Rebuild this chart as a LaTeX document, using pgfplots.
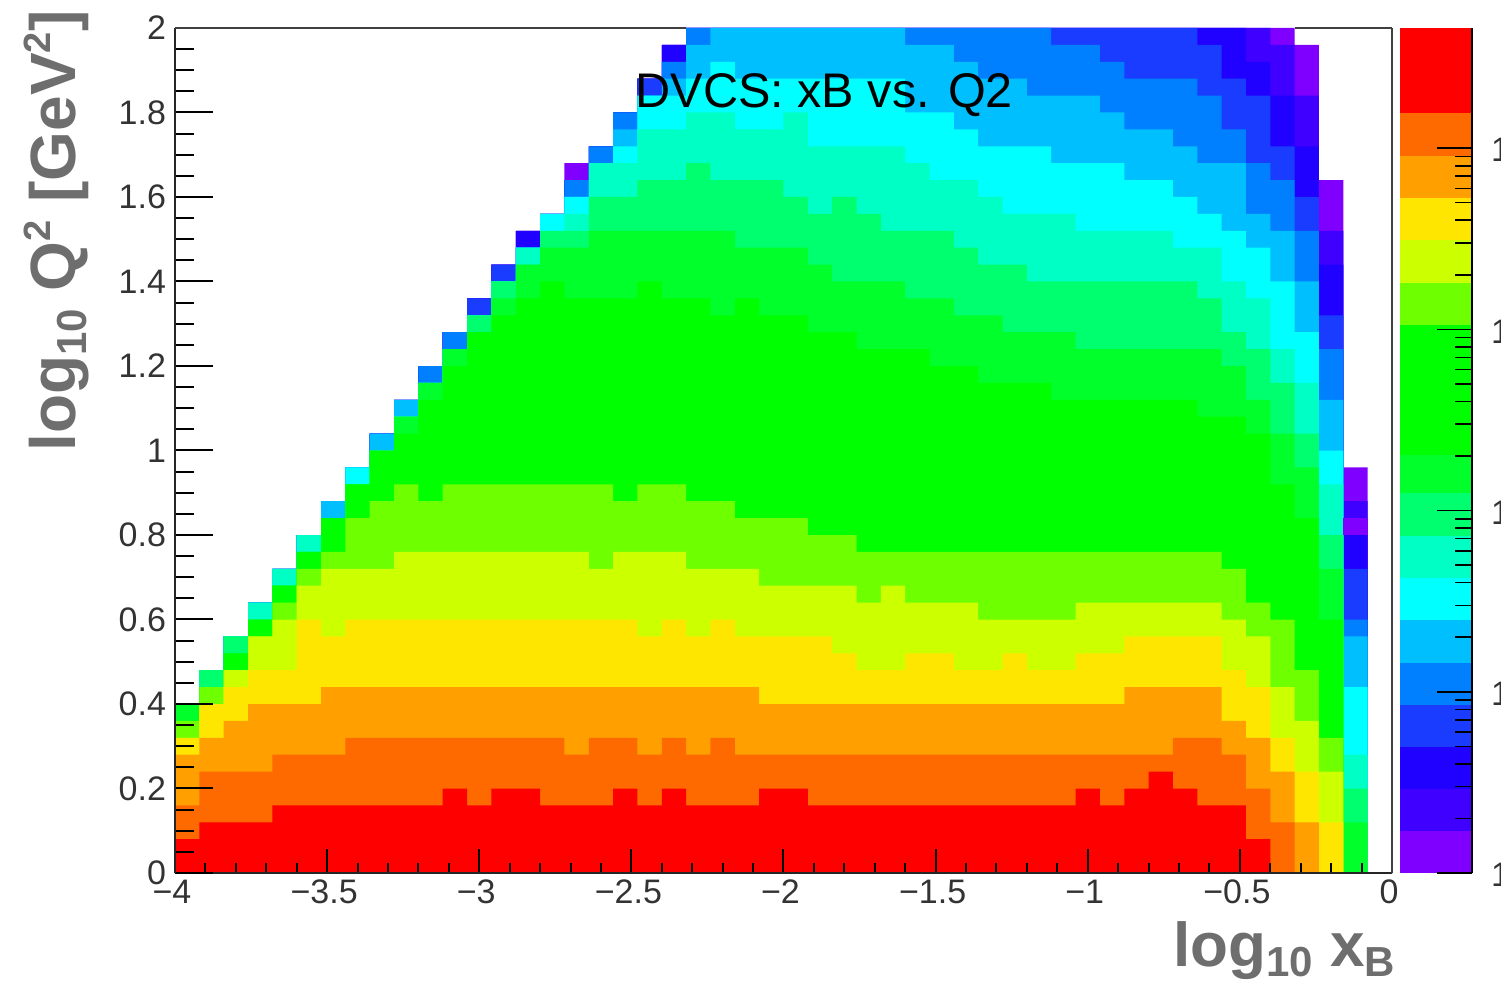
\documentclass[border=0pt]{standalone}
\usepackage{fontspec}
\setmainfont{Liberation Sans}
\usepackage{pgfplots}
\usepackage{pgfplotstable}
\pgfplotsset{compat=1.18}

% contour palette, lowest to highest
\definecolor{cL1}{HTML}{7F00FF}
\definecolor{cL2}{HTML}{4000FF}
\definecolor{cL3}{HTML}{2000FF}
\definecolor{cL4}{HTML}{1A3CFF}
\definecolor{cL5}{HTML}{0080FF}
\definecolor{cL6}{HTML}{00BFFF}
\definecolor{cL7}{HTML}{00FFFF}
\definecolor{cL8}{HTML}{00FFC4}
\definecolor{cL9}{HTML}{00FF6E}
\definecolor{cL10}{HTML}{00FF2B}
\definecolor{cL11}{HTML}{00FF00}
\definecolor{cL12}{HTML}{6EFF00}
\definecolor{cL13}{HTML}{CCFF00}
\definecolor{cL14}{HTML}{FFE600}
\definecolor{cL15}{HTML}{FFA000}
\definecolor{cL16}{HTML}{FF6A00}
\definecolor{cL17}{HTML}{FF0000}
\definecolor{labelgray}{HTML}{6E6E6E}
\definecolor{tickgray}{HTML}{333333}

% number of bins (0.04 wide in y) at or above each contour, per x bin
\pgfplotstableread{
x L1 L2 L3 L4 L5 L6 L7 L8 L9 L10 L11 L12 L13 L14 L15 L16 L17
-4.00 10 10 10 10 10 10 10 10 10 10 9 9 8 8 7 4 2
-3.92 12 12 12 12 12 12 12 12 12 11 11 11 10 10 8 6 3
-3.84 14 14 14 14 14 14 14 14 14 13 13 12 12 11 9 6 3
-3.76 16 16 16 16 16 16 16 16 15 15 15 14 14 12 10 6 3
-3.68 18 18 18 18 18 18 18 18 17 17 17 16 15 12 10 7 4
-3.60 20 20 20 20 20 20 20 20 19 19 19 18 17 15 10 7 4
-3.52 22 22 22 22 22 22 21 21 21 21 21 19 18 14 11 7 4
-3.44 24 24 24 24 24 24 24 23 23 23 23 21 18 15 11 8 4
-3.36 26 26 26 26 26 26 25 25 25 25 25 22 18 15 11 8 4
-3.28 28 28 28 28 28 28 27 27 27 27 26 23 19 15 11 8 4
-3.20 30 30 30 30 30 29 29 29 29 29 28 22 19 15 11 8 4
-3.12 32 32 32 32 32 31 31 31 31 31 30 23 19 15 11 8 5
-3.04 34 34 34 34 33 33 33 33 33 32 32 23 19 15 11 8 4
-2.96 36 36 36 36 35 35 35 35 35 34 33 23 19 15 11 8 5
-2.88 38 38 38 37 37 37 37 37 36 36 34 23 19 15 11 8 5
-2.80 39 39 39 39 39 39 39 38 38 37 35 23 19 15 11 8 4
-2.72 42 41 41 41 41 40 40 39 38 37 34 23 19 15 11 7 4
-2.64 43 43 43 43 43 42 42 42 40 38 34 23 18 15 11 8 4
-2.56 45 45 45 45 45 44 43 42 40 38 34 22 19 15 11 8 5
-2.48 47 47 47 47 46 46 46 44 41 38 35 23 19 14 11 7 4
-2.40 49 49 49 48 48 47 46 44 41 38 34 23 19 15 11 8 5
-2.32 50 50 50 50 50 49 47 45 42 38 34 22 18 14 11 7 4
-2.24 50 50 50 50 50 50 48 45 41 38 33 22 18 15 11 8 4
-2.16 50 50 50 50 50 50 47 44 41 37 34 21 18 14 11 7 4
-2.08 50 50 50 50 50 50 47 44 41 37 33 21 17 14 10 7 5
-2.00 50 50 50 50 50 50 47 45 40 37 33 21 17 14 10 7 5
-1.92 50 50 50 50 50 50 47 43 39 36 32 20 17 14 10 7 4
-1.84 50 50 50 50 50 50 47 43 40 35 32 20 17 13 10 7 4
-1.76 50 50 50 50 50 50 47 43 39 35 31 19 16 12 10 7 4
-1.68 50 50 50 50 50 50 47 43 38 35 31 19 17 12 10 7 4
-1.60 50 50 50 50 50 49 45 42 38 34 31 19 16 13 10 7 4
-1.52 50 50 50 50 50 49 45 41 38 34 30 19 16 13 10 7 4
-1.44 50 50 50 50 50 48 44 41 37 33 30 19 16 12 10 7 4
-1.36 50 50 50 50 50 47 43 40 36 33 29 19 15 12 10 7 4
-1.28 50 50 50 50 50 47 43 39 36 32 29 19 15 13 10 7 4
-1.20 50 50 50 50 50 46 43 39 35 32 29 19 15 12 10 7 4
-1.12 50 50 50 50 49 46 42 39 35 32 28 19 15 12 10 7 4
-1.04 50 50 50 50 49 46 42 38 35 31 28 19 16 13 10 7 5
-0.96 50 50 50 50 48 45 42 38 35 31 28 19 16 13 10 7 4
-0.88 50 50 50 50 47 44 41 38 35 31 28 19 16 14 11 7 5
-0.80 50 50 50 50 47 44 41 38 35 31 28 19 16 14 11 7 6
-0.72 50 50 50 50 47 43 40 37 35 31 28 19 16 14 11 8 5
-0.64 50 50 50 49 46 42 39 37 34 31 27 19 16 14 11 8 4
-0.56 50 50 50 47 44 42 38 35 32 30 27 18 15 12 9 7 4
-0.48 50 50 48 46 42 39 37 34 31 28 26 16 14 11 8 5 2
-0.40 50 49 46 43 41 38 35 31 29 26 23 15 11 8 6 3 0
-0.32 49 46 43 40 38 35 32 29 26 24 21 12 9 6 3 0 0
-0.24 41 38 36 33 31 28 25 23 20 18 15 8 6 3 0 0 0
-0.16 24 22 20 18 15 14 11 7 5 3 0 0 0 0 0 0 0
-0.08 0 0 0 0 0 0 0 0 0 0 0 0 0 0 0 0 0
0.00 0 0 0 0 0 0 0 0 0 0 0 0 0 0 0 0 0
}\histtable

\newcommand{\tickfont}{\fontsize{17}{20}\selectfont}
\newcommand{\lblfont}{\fontsize{32}{32}\selectfont\bfseries}
\newcommand{\lblsub}[1]{\raisebox{-0.16em}{\fontsize{21}{21}\selectfont\bfseries #1}}
\newcommand{\lblsup}[1]{\raisebox{0.40em}{\fontsize{19}{19}\selectfont\bfseries #1}}
% one colour bar band, drawn from the bottom of the bar up to #2
\newcommand{\band}[2]{\addplot[fill=#1,draw=none] coordinates {(0,1) (1,1) (1,#2) (0,#2)} --cycle;}

\begin{document}
\begin{tikzpicture}
\path[use as bounding box] (-87.5pt,-56.5pt) rectangle (663pt,436.5pt);

% histogram, x ticks and title
\begin{axis}[
    at={(0pt,0pt)}, anchor=south west,
    scale only axis, width=608.5pt, height=422.5pt,
    xmin=-4, xmax=0, ymin=0, ymax=2,
    axis on top,
    axis y line=none,
    axis x line=bottom,
    axis line style={-, black!85, line width=1pt},
    tick align=inside,
    xtick={-4,-3.5,-3,-2.5,-2,-1.5,-1,-0.5,0},
    xticklabels={−4,−3.5,−3,−2.5,−2,−1.5,−1,−0.5,0},
    minor x tick num=4,
    major tick length=12pt, minor tick length=5pt,
    tick style={black, line width=1pt},
    xticklabel style={font=\tickfont, text=tickgray, xshift=-1.5pt},
    xlabel={\fontsize{31}{31}\selectfont\bfseries log\lblsub{10} x\lblsub{B}},
    xlabel style={at={(axis description cs:1.0085,-0.111)}, anchor=base east, text=labelgray},
    title={DVCS: xB vs. Q2},
    title style={at={(axis description cs:0.5335,0.8915)}, anchor=base, font=\fontsize{24.3}{26}\selectfont, text=black},
]
\pgfplotsinvokeforeach{1,...,17}{
    \addplot[const plot, draw=none, fill=cL#1] table[x=x, y expr=\thisrow{L#1}*0.04] {\histtable} \closedcycle;
}
% one violet bin that breaks the ordering of the last column
\addplot[fill=cL1, draw=none] coordinates {(-0.16,0.80) (-0.08,0.80) (-0.08,0.84) (-0.16,0.84)} --cycle;
\end{axis}

% y ticks and the frame, which the filled bins cut at the top
\begin{axis}[
    at={(0pt,0pt)}, anchor=south west,
    scale only axis, width=608.5pt, height=422.5pt,
    xmin=-4, xmax=0, ymin=0, ymax=2,
    clip=false,
    axis x line=none,
    axis y line=left,
    axis line style={-, black!85, line width=1pt},
    tick align=inside,
    ytick={0,0.2,0.4,0.6,0.8,1,1.2,1.4,1.6,1.8,2},
    yticklabels={0,0.2,0.4,0.6,0.8,1,1.2,1.4,1.6,1.8,2},
    minor y tick num=3,
    major tick length=19pt, minor tick length=9.5pt,
    tick style={black, line width=1pt},
    yticklabel style={font=\tickfont, text=tickgray, xshift=-1pt},
    ylabel={\lblfont log\lblsub{10} Q\lblsup{2} [GeV\lblsup{2}]},
    ylabel style={at={(axis description cs:-0.0815,1.029)}, rotate=0, anchor=base east, text=labelgray},
]
\addplot[black!75, line width=1pt] coordinates {(0,0) (0,2)};
\addplot[black!75, line width=1pt] coordinates {(-4,2) (-2.32,2)};
\addplot[black!75, line width=1pt] coordinates {(-0.32,2) (0,2)};
\end{axis}

% colour bar
\begin{axis}[
    at={(612.5pt,0pt)}, anchor=south west,
    scale only axis, width=36pt, height=422.5pt,
    xmin=0, xmax=1, ymode=log, ymin=1, ymax=46030,
    axis on top,
    axis x line=none,
    axis y line=right,
    axis line style={-, black, line width=0.7pt},
    tick align=inside,
    ytick={1,10,100,1000,10000},
    yticklabels={1,1,1,1,1},
    major tick length=17.5pt, minor tick length=8.5pt,
    tick style={black, line width=0.8pt},
    yticklabel style={font=\tickfont, text=tickgray, anchor=west, xshift=6pt, yshift=-1pt},
]
\band{cL17}{46030}
\band{cL16}{15640}
\band{cL15}{9057}
\band{cL14}{5310}
\band{cL13}{3114}
\band{cL12}{1803}
\band{cL11}{1058}
\band{cL10}{203}
\band{cL9}{125}
\band{cL8}{72.4}
\band{cL7}{42.5}
\band{cL6}{24.9}
\band{cL5}{14.4}
\band{cL4}{8.46}
\band{cL3}{4.96}
\band{cL2}{2.91}
\band{cL1}{1.71}
\end{axis}
\end{tikzpicture}
\end{document}
